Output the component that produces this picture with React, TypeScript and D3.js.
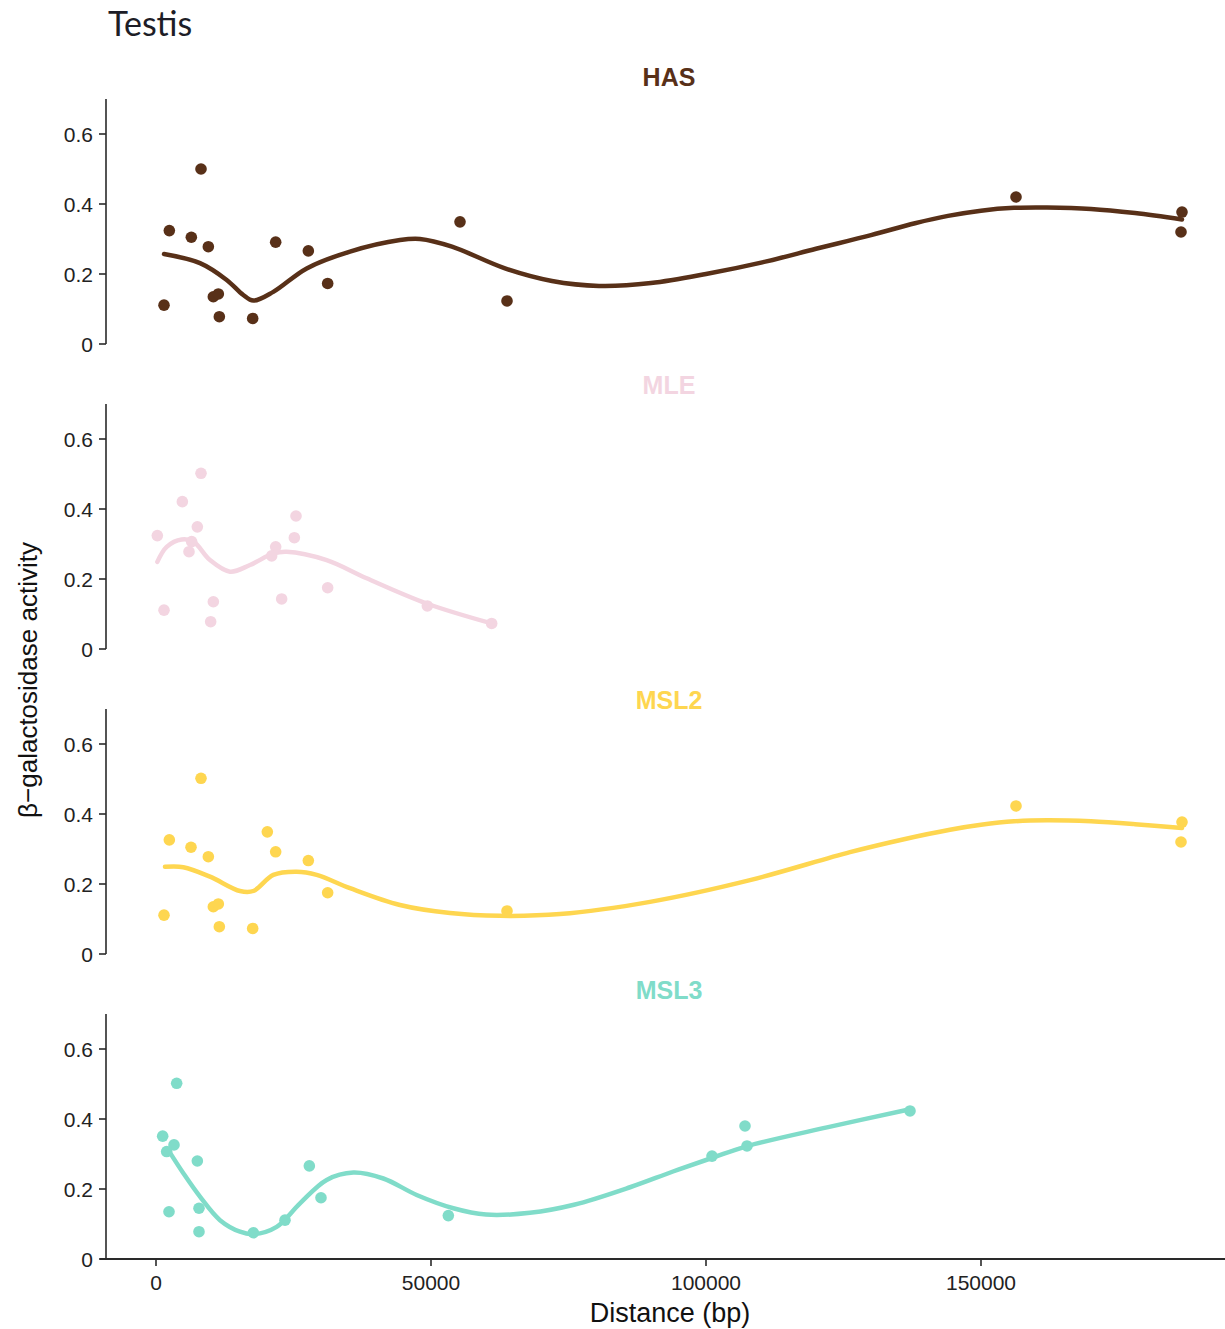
import React from "react";
import * as d3 from "d3";

// β-galactosidase activity versus distance, testis, one panel per protein.

const DISTANCE_TICKS = [0, 50000, 100000, 150000];
const ACTIVITY_TICKS = [0, 0.2, 0.4, 0.6];

// [distance (bp), activity]
const hasPoints: [number, number][] = [
  [8182, 0.5], [2424, 0.324], [6424, 0.305], [9515, 0.278], [21758, 0.291],
  [27697, 0.266], [31212, 0.173], [1455, 0.111], [10424, 0.135], [11333, 0.143],
  [11515, 0.078], [17576, 0.073], [55273, 0.349], [63818, 0.123],
  [156364, 0.42], [186545, 0.377], [186364, 0.32],
];
const hasFit: [number, number][] = [
  [1455, 0.257], [8000, 0.231], [12855, 0.183], [15873, 0.14], [17691, 0.124],
  [21327, 0.149], [27400, 0.216], [35273, 0.264], [44364, 0.297], [48000, 0.3],
  [53818, 0.278], [63455, 0.216], [72000, 0.18], [80545, 0.166], [90000, 0.174],
  [100000, 0.2], [111000, 0.236], [120000, 0.272], [130000, 0.311],
  [138000, 0.345], [144000, 0.366], [150000, 0.381], [156000, 0.389],
  [162000, 0.39], [170000, 0.386], [178000, 0.374], [186545, 0.356],
];

const mlePoints: [number, number][] = [
  [8182, 0.502], [4788, 0.421], [7515, 0.349], [242, 0.324], [6485, 0.307],
  [6000, 0.278], [21758, 0.292], [21030, 0.266], [25455, 0.38], [25152, 0.318],
  [1455, 0.111], [10424, 0.135], [9939, 0.078], [22848, 0.143], [31212, 0.175],
  [49333, 0.123], [61030, 0.073],
];
const mleFit: [number, number][] = [
  [242, 0.249], [1945, 0.292], [4667, 0.313], [6788, 0.307], [9818, 0.254],
  [13455, 0.221], [17091, 0.24], [21333, 0.273], [23758, 0.278], [31030, 0.254],
  [38303, 0.202], [49212, 0.13], [61030, 0.073],
];

const msl2Points: [number, number][] = [
  [8182, 0.502], [2424, 0.326], [6364, 0.305], [9515, 0.278], [20242, 0.349],
  [21758, 0.292], [27697, 0.267], [31212, 0.175], [1455, 0.111], [10424, 0.135],
  [11333, 0.143], [11515, 0.078], [17576, 0.073], [63818, 0.123],
  [156364, 0.423], [186545, 0.377], [186364, 0.32],
];
const msl2Fit: [number, number][] = [
  [1636, 0.249], [4970, 0.248], [9818, 0.221], [15273, 0.18], [17691, 0.18],
  [21327, 0.226], [25576, 0.235], [29212, 0.226], [35273, 0.188], [44364, 0.14],
  [53455, 0.117], [62545, 0.109], [73455, 0.114], [89818, 0.149], [108000, 0.211],
  [126182, 0.291], [136000, 0.328], [144364, 0.355], [150000, 0.369],
  [156000, 0.379], [162000, 0.382], [170000, 0.379], [178000, 0.371],
  [186545, 0.36],
];

const msl3Points: [number, number][] = [
  [3758, 0.502], [1212, 0.351], [3273, 0.326], [1939, 0.307], [7515, 0.28],
  [2364, 0.135], [7818, 0.145], [7818, 0.078], [27879, 0.266], [30000, 0.175],
  [17697, 0.075], [23455, 0.111], [53152, 0.124], [101091, 0.294],
  [107091, 0.38], [107455, 0.323], [137091, 0.423],
];
const msl3Fit: [number, number][] = [
  [2242, 0.311], [4970, 0.245], [8000, 0.178], [11636, 0.111], [15273, 0.078],
  [17697, 0.071], [21939, 0.092], [26182, 0.159], [31030, 0.226], [35879, 0.247],
  [41333, 0.23], [47394, 0.183], [54061, 0.145], [60000, 0.127], [68000, 0.132],
  [76000, 0.155], [86182, 0.205], [94000, 0.25], [101333, 0.29], [107394, 0.322],
  [122000, 0.376], [137091, 0.428],
];

const PANEL_NAMES = ["HAS", "MLE", "MSL2", "MSL3"];
const PANEL_COLORS = ["#583018", "#f3d5e1", "#fed650", "#80dcc9"];
const PANEL_POINTS = [hasPoints, mlePoints, msl2Points, msl3Points];
const PANEL_FITS = [hasFit, mleFit, msl2Fit, msl3Fit];

const W = 1225;
const H = 1329;
const AXIS_X = 106;
const PLOT_RIGHT = 1225;
const PANEL_BOTTOMS = [344, 649, 954, 1259];
const PANEL_H = 245;
const TITLE_Y = [86, 394, 709, 999];
const FONT = "'Liberation Sans', Arial, sans-serif";
const AXIS_COLOR = "#2a2a2a";

const x = d3.scaleLinear().domain([0, 150000]).range([156, 981]);

export default function App() {
  return (
    <svg
      width={W}
      height={H}
      viewBox={`0 0 ${W} ${H}`}
      style={{ position: "absolute", left: 0, top: 0, background: "#fff" }}
    >
      <rect width={W} height={H} fill="#fff" />
      <text x={108} y={36} fontFamily="Lato, sans-serif" fontSize={34} fill="#1d1d27">
        Testis
      </text>

      {PANEL_NAMES.map((name, i) => {
        const bottom = PANEL_BOTTOMS[i];
        const y = d3.scaleLinear().domain([0, 0.7]).range([bottom, bottom - PANEL_H]);
        const line = d3
          .line<[number, number]>()
          .x((d) => x(d[0]))
          .y((d) => y(d[1]))
          .curve(d3.curveCatmullRom.alpha(0.5));
        const color = PANEL_COLORS[i];
        return (
          <g key={name}>
            <text
              x={669}
              y={TITLE_Y[i]}
              textAnchor="middle"
              fontFamily={FONT}
              fontWeight="bold"
              fontSize={25}
              fill={color}
            >
              {name}
            </text>
            {/* y axis */}
            <line x1={AXIS_X} x2={AXIS_X} y1={y(0.7)} y2={y(0)} stroke={AXIS_COLOR} strokeWidth={1.6} />
            {ACTIVITY_TICKS.map((t) => (
              <g key={t}>
                <line x1={AXIS_X - 7} x2={AXIS_X} y1={y(t)} y2={y(t)} stroke={AXIS_COLOR} strokeWidth={1.6} />
                <text
                  x={AXIS_X - 13}
                  y={y(t)}
                  dy="0.36em"
                  textAnchor="end"
                  fontFamily={FONT}
                  fontSize={21}
                  fill="#222"
                >
                  {t === 0 ? "0" : d3.format(".1f")(t)}
                </text>
              </g>
            ))}
            {/* smooth fit */}
            <path
              d={line(PANEL_FITS[i]) || ""}
              fill="none"
              stroke={color}
              strokeWidth={4.5}
              strokeLinecap="round"
              strokeLinejoin="round"
            />
            {PANEL_POINTS[i].map((p, k) => (
              <circle key={k} cx={x(p[0])} cy={y(p[1])} r={5.8} fill={color} />
            ))}
          </g>
        );
      })}

      {/* x axis on the bottom panel */}
      <line
        x1={AXIS_X - 6}
        x2={PLOT_RIGHT}
        y1={PANEL_BOTTOMS[3]}
        y2={PANEL_BOTTOMS[3]}
        stroke={AXIS_COLOR}
        strokeWidth={1.8}
      />
      {DISTANCE_TICKS.map((t) => (
        <g key={t}>
          <line
            x1={x(t)}
            x2={x(t)}
            y1={PANEL_BOTTOMS[3]}
            y2={PANEL_BOTTOMS[3] + 7}
            stroke={AXIS_COLOR}
            strokeWidth={1.6}
          />
          <text
            x={x(t)}
            y={PANEL_BOTTOMS[3] + 31}
            textAnchor="middle"
            fontFamily={FONT}
            fontSize={21}
            fill="#222"
          >
            {t}
          </text>
        </g>
      ))}
      <text
        x={670}
        y={1322}
        textAnchor="middle"
        fontFamily={FONT}
        fontSize={27}
        fill="#111"
      >
        Distance (bp)
      </text>
      <text
        transform="translate(37,680) rotate(-90)"
        textAnchor="middle"
        fontFamily={FONT}
        fontSize={26}
        fill="#111"
      >
        β−galactosidase activity
      </text>
    </svg>
  );
}
